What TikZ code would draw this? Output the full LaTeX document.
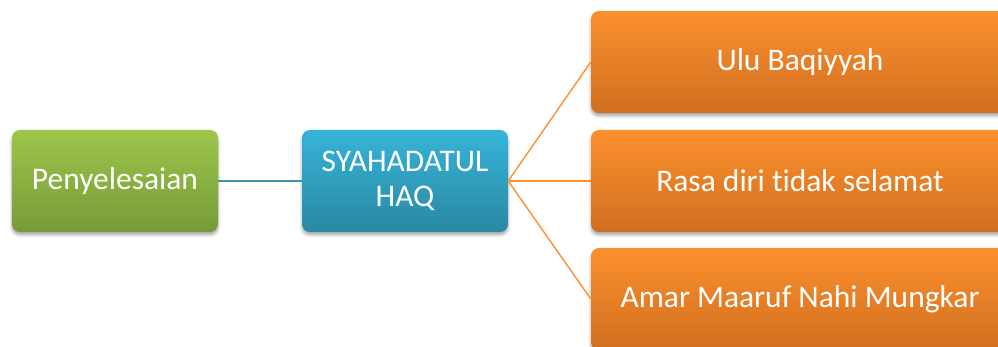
\documentclass[tikz,border=0pt]{standalone}
\usepackage{fontspec}
\setmainfont{Carlito}[Ligatures=NoCommon]
\usetikzlibrary{shadows.blur}

\definecolor{grntop}{HTML}{9DC649}
\definecolor{grnbot}{HTML}{779A3A}
\definecolor{blutop}{HTML}{36B4D8}
\definecolor{blubot}{HTML}{2A88A2}
\definecolor{orgtop}{HTML}{FC902D}
\definecolor{orgbot}{HTML}{D06E20}

\tikzset{
  box/.style={rounded corners=8pt, minimum height=102pt, inner sep=0pt,
    text=white, align=center, font=\fontsize{31.5}{35}\selectfont,
    blur shadow={shadow xshift=0pt, shadow yshift=-3pt,
      shadow opacity=35, shadow blur radius=3pt}},
  grnbox/.style={box, minimum width=206pt, top color=grntop, bottom color=grnbot},
  blubox/.style={box, minimum width=206pt, top color=blutop, bottom color=blubot},
  orgbox/.style={box, minimum width=418pt, top color=orgtop, bottom color=orgbot},
}

\begin{document}
\begin{tikzpicture}[x=1pt,y=1pt]
    \useasboundingbox (0,0) rectangle (998,347);
    \clip (0,0) rectangle (998,347);
    \node[grnbox] at (115,166) (pen) {Penyelesaian};
    \node[blubox] at (405,166) (syh) {SYAHADATUL\\HAQ};
    % right column
    \foreach \y/\t [count=\i] in {285/Ulu Baqiyyah,166/Rasa diri tidak selamat,48/Amar Maaruf Nahi Mungkar} {
      \node[orgbox] at (800,\y) (org-\i) {\t};
    }
    % links
    \draw[color=blubot!90!white, line width=1.4pt] (pen.east) -- (syh.west);
    \foreach \i in {1,...,3} {
      \draw[color=orgtop, line width=1.4pt] (syh.east) -- (org-\i.west);
    }
\end{tikzpicture}
\end{document}
